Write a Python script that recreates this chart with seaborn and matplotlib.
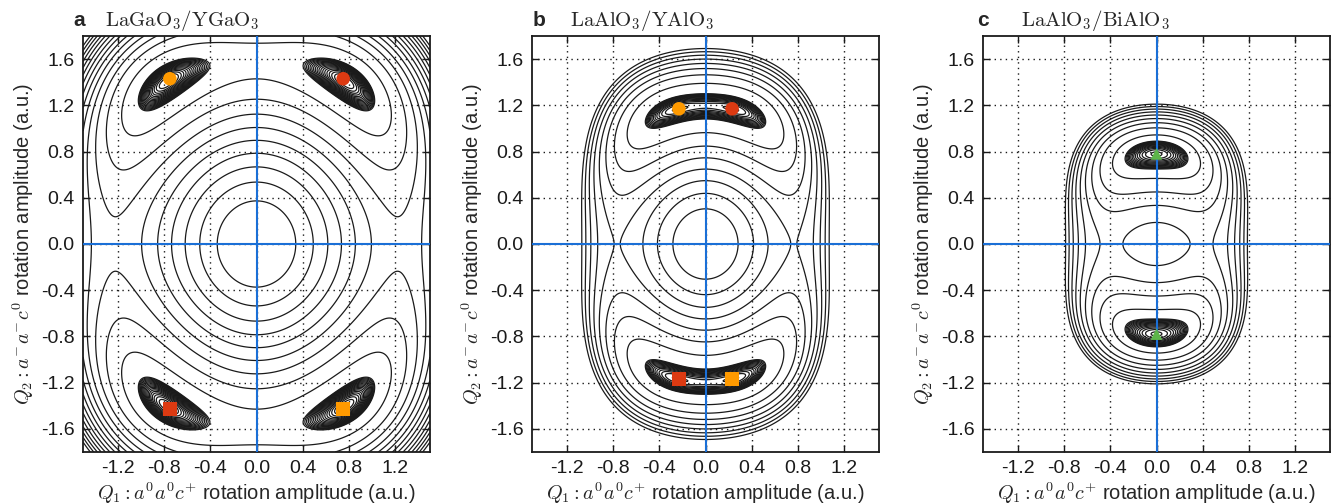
import numpy as np
import pandas as pd
import matplotlib
matplotlib.use("Agg")
import matplotlib.pyplot as plt
import seaborn as sns

# ==============================================================================
# DATA
# ==============================================================================
# energy surface F(Q1, Q2) with u = Q1^2, v = Q2^2:
#   F = a*u + b*v + A*u^2 + B*v^2 + C*u*v + A3*u^3
# coefficient order: a, b, A, B, C, A3
COEF_A = [-1.0, -0.82, 0.33, 0.162, 0.307, 0.0]      # LaGaO3/YGaO3
COEF_B = [-13.44, -11.16, 10.7, 3.9, 8.98, 0.9]     # LaAlO3/YAlO3
COEF_C = [-8.0, -14.8, 24.7, 12.2, 20.6, 0.0]       # LaAlO3/BiAlO3

# coarse contour levels
LEVELS_A = [-0.999, -0.888, -0.777, -0.666, -0.555, -0.444, -0.333, -0.222, -0.111,
            0.0, 0.111, 0.222, 0.333, 0.444]
LEVELS_B = [-7, -6, -5, -4, -3, -2, -1, 0]
LEVELS_C = [-3.5, -2.5, -1.5, -0.5, 0.5, 1.5, 2.5, 3.5, 4.5]

# dense levels just above the minimum: (first offset, last offset, count)
FINE_A = (0.002, 0.036, 18)
FINE_B = (0.005, 0.28, 14)
FINE_C = (0.01, 0.42, 14)

TITLES = ["LaGaO_3/YGaO_3", "LaAlO_3/YAlO_3", "LaAlO_3/BiAlO_3"]
PANEL_LETTERS = ["a", "b", "c"]

# ground-state markers
MARK_A_X = [-0.75, 0.75, -0.75, 0.75]
MARK_A_Y = [1.43, 1.43, -1.43, -1.43]
MARK_A_KIND = ["o", "o", "s", "s"]
MARK_A_COL = ["orange", "red", "red", "orange"]

MARK_B_X = [-0.23, 0.23, -0.23, 0.23]
MARK_B_Y = [1.17, 1.17, -1.17, -1.17]
MARK_B_KIND = ["o", "o", "s", "s"]
MARK_B_COL = ["orange", "red", "red", "orange"]

MARK_C_X = [0.0, 0.0]
MARK_C_Y = [0.78, -0.78]
MARK_C_KIND = ["^", "^"]
MARK_C_COL = ["green", "green"]

XTICKS = [-1.2, -0.8, -0.4, 0.0, 0.4, 0.8, 1.2]
YTICKS = [-1.6, -1.2, -0.8, -0.4, 0.0, 0.4, 0.8, 1.2, 1.6]

# ==============================================================================
# STYLE
# ==============================================================================
sns.set_theme(style="ticks")
plt.rcParams['font.family'] = ['Liberation Sans', 'DejaVu Sans']
plt.rcParams['mathtext.fontset'] = 'cm'
plt.rcParams['axes.unicode_minus'] = False
plt.rcParams['contour.negative_linestyle'] = 'solid'

PALETTE = {"orange": "#ff9a00", "red": "#dc3a12", "green": "#5db54a"}
MARKERS = {"o": "o", "s": "s", "^": "^"}
BLUE = "#1a6fd6"


def energy(X, Y, coef):
    a, b, A, B, C, A3 = coef
    u, v = X ** 2, Y ** 2
    return a * u + b * v + A * u ** 2 + B * v ** 2 + C * u * v + A3 * u ** 3


x = np.linspace(-1.5, 1.5, 600)
y = np.linspace(-1.8, 1.8, 720)
X, Y = np.meshgrid(x, y)

fig = plt.figure(figsize=(13.35, 5.04), dpi=100)
W, H = 1335.0, 504.0
lefts = [83, 532, 983]
title_x = [(73, 105), (533, 570), (977, 1021)]

panels = [
    (COEF_A, LEVELS_A, FINE_A, MARK_A_X, MARK_A_Y, MARK_A_KIND, MARK_A_COL, 95),
    (COEF_B, LEVELS_B, FINE_B, MARK_B_X, MARK_B_Y, MARK_B_KIND, MARK_B_COL, 95),
    (COEF_C, LEVELS_C, FINE_C, MARK_C_X, MARK_C_Y, MARK_C_KIND, MARK_C_COL, 70),
]

for i, (coef, coarse, fine, mx, my, mk, mc, msize) in enumerate(panels):
    ax = fig.add_axes([lefts[i] / W, (504 - 452) / H, 347 / W, 416 / H])
    F = energy(X, Y, coef)
    fmin = F.min()
    fine_levels = fmin + np.linspace(*fine)
    levels = np.unique(np.concatenate([np.array(coarse, float), fine_levels]))
    levels = levels[(levels > fmin) & (levels < F.max())]

    ax.grid(True, linestyle=(0, (1, 3)), color='k', linewidth=1.0, zorder=0)
    ax.contour(X, Y, F, levels=levels, colors='k', linewidths=0.9,
               linestyles='solid', zorder=2)
    ax.axhline(0, color=BLUE, lw=1.5, zorder=3)
    ax.axvline(0, color=BLUE, lw=1.5, zorder=3)

    df = pd.DataFrame({"x": mx, "y": my, "kind": mk, "col": mc})
    sns.scatterplot(data=df, x="x", y="y", hue="col", style="kind",
                    palette=PALETTE, markers=MARKERS, s=msize, linewidth=0,
                    ax=ax, zorder=4, legend=False)

    ax.set_xlim(-1.5, 1.5)
    ax.set_ylim(-1.8, 1.8)
    ax.set_aspect('equal')
    ax.set_xticks(XTICKS)
    ax.set_yticks(YTICKS)
    ax.set_xticklabels([f"{t:.1f}" for t in XTICKS])
    ax.set_yticklabels([f"{t:.1f}" for t in YTICKS])
    ax.tick_params(direction='in', top=True, right=True, length=5, width=1,
                   labelsize=14, colors='k', pad=6)
    for sp in ax.spines.values():
        sp.set_linewidth(1.3)
        sp.set_color('k')
    ax.set_xlabel(r'$Q_1: a^{0}a^{0}c^{+}$ rotation amplitude (a.u.)', fontsize=14.5, labelpad=2)
    ax.set_ylabel(r'$Q_2: a^{-}a^{-}c^{0}$ rotation amplitude (a.u.)', fontsize=14.5, labelpad=4)

    fig.text(title_x[i][0] / W, 1 - 26 / H, PANEL_LETTERS[i], fontsize=15,
             fontweight='bold', va='baseline')
    fig.text(title_x[i][1] / W, 1 - 26 / H, r'$\mathrm{' + TITLES[i] + '}$',
             fontsize=15, va='baseline')

fig.savefig("out.png", dpi=100)
